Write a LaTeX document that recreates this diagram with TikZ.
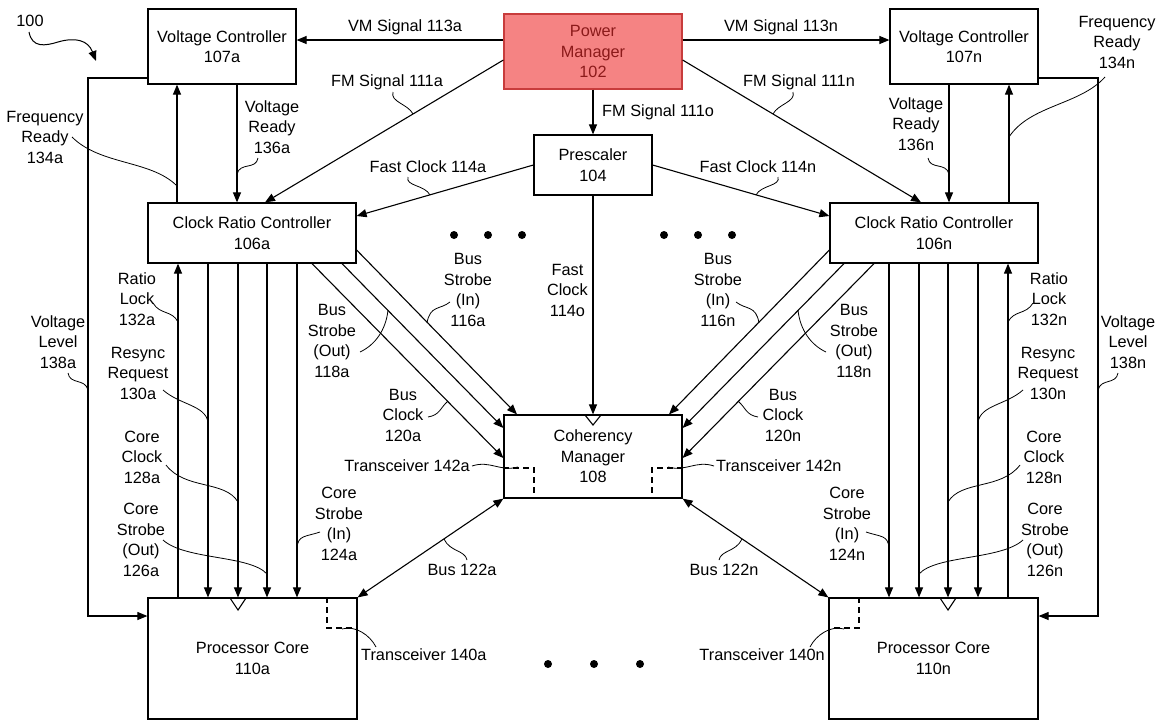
\documentclass[tikz,border=0pt]{standalone}
\usepackage{fontspec}
\setmainfont{Liberation Sans}
\usetikzlibrary{arrows.meta,calc}
\newcommand\dgfont{\fontsize{16.3}{20.5}\selectfont}
\definecolor{pmfill}{HTML}{F58383}
\definecolor{pmdraw}{HTML}{C83C3C}
\definecolor{pmtext}{HTML}{8B1A1A}
\begin{document}
\begin{tikzpicture}[x=1pt,y=-1pt,
  box/.style={draw, line width=1.2pt, fill=white, align=center, inner sep=0pt, font=\dgfont},
  ln/.style={line width=1.1pt},
  arr/.style={ln, -{Triangle[length=10pt,width=8pt]}},
  arrs/.style={ln, {Triangle[length=10pt,width=8pt]}-{Triangle[length=10pt,width=8pt]}},
  lead/.style={line width=0.8pt},
  lbl/.style={align=center, font=\dgfont, inner sep=0pt},
  tdash/.style={line width=1.1pt, dash pattern=on 6pt off 4pt},
  dotn/.style={circle, fill=black, inner sep=0pt, minimum size=8pt}]

\useasboundingbox (0,0) rectangle (1164,721);

% ---------- boxes ----------
\node[box, minimum width=148pt, minimum height=75pt] (vca) at (222,46.5) {Voltage Controller\\107a};
\node[box, minimum width=148pt, minimum height=75pt] (vcn) at (964,46.5) {Voltage Controller\\107n};
\node[box, fill=pmfill, draw=pmdraw, text=pmtext, minimum width=178pt, minimum height=75pt] (pm) at (593,51.5) {Power\\Manager\\102};
\node[box, minimum width=118pt, minimum height=60pt] (pre) at (593,165) {Prescaler\\104};
\node[box, minimum width=208pt, minimum height=60pt] (crca) at (252,233) {Clock Ratio Controller\\106a};
\node[box, minimum width=208pt, minimum height=60pt] (crcn) at (934,233) {Clock Ratio Controller\\106n};
\node[box, minimum width=178pt, minimum height=83pt] (cm) at (593,456.5) {Coherency\\Manager\\108};
\node[box, minimum width=209pt, minimum height=121pt] (pca) at (252.5,658.5) {Processor Core\\110a};
\node[box, minimum width=209pt, minimum height=121pt] (pcn) at (933.5,658.5) {Processor Core\\110n};

% clock triangles
\draw[ln] (585,415) -- (593,425) -- (601,415);
\draw[ln] (230,598) -- (238,610) -- (246,598);
\draw[ln] (940,598) -- (948,610) -- (956,598);

% ---------- top connectors ----------
\draw[arr] (pm.west |- 0,40) -- (vca.east |- 0,40);
\draw[arr] (pm.east |- 0,40) -- (vcn.west |- 0,40);
\draw[arr] (pm.west |- 0,60) -- (crca.north -| 265,0);
\draw[arr] (pm.east |- 0,60) -- (crcn.north -| 921,0);
\draw[arr] (pm.south) -- (pre.north);
\draw[arr] (pre.west) -- (crca.east |- 0,216);
\draw[arr] (pre.east) -- (crcn.west |- 0,216);
\draw[arr] (pre.south) -- (cm.north);

% VC <-> CRC
\draw[arr] (crca.north -| 177,0) -- (vca.south -| 177,0);
\draw[arr] (vca.south -| 237,0) -- (crca.north -| 237,0);
\draw[arr] (crcn.north -| 1009,0) -- (vcn.south -| 1009,0);
\draw[arr] (vcn.south -| 949,0) -- (crcn.north -| 949,0);

% voltage level
\draw[arr] (vca.west |- 0,78) -| (88,616) -- (pca.west |- 0,616);
\draw[arr] (vcn.east |- 0,78) -| (1098,616) -- (pcn.east |- 0,616);

% CRC <-> PC
\draw[arr] (pca.north -| 178,0) -- (crca.south -| 178,0);
\foreach \x in {208,238,267,297} \draw[arr] (crca.south -| \x,0) -- (pca.north -| \x,0);
\draw[arr] (pcn.north -| 1008,0) -- (crcn.south -| 1008,0);
\foreach \x in {978,948,919,889} \draw[arr] (crcn.south -| \x,0) -- (pcn.north -| \x,0);

% bus strobe / clock lines
\draw[arr] (crca.east |- 0,250) -- (cm.north -| 517,0);
\draw[arr] (crca.south -| 342,0) -- (cm.west |- 0,428);
\draw[arr] (crca.south -| 312,0) -- (cm.west |- 0,458);
\draw[arr] (crcn.west |- 0,250) -- (cm.north -| 669,0);
\draw[arr] (crcn.south -| 844,0) -- (cm.east |- 0,428);
\draw[arr] (crcn.south -| 874,0) -- (cm.east |- 0,458);

% buses
\draw[arrs] (pca.north east) -- (cm.south west);
\draw[arrs] (pcn.north west) -- (cm.south east);

% transceivers
\draw[tdash] (cm.west |- 0,468) -- (534,468) -- (cm.south -| 534,0);
\draw[tdash] (cm.east |- 0,468) -- (652,468) -- (cm.south -| 652,0);
\draw[tdash] (pca.north -| 327,0) -- (327,628) -- (pca.east |- 0,628);
\draw[tdash] (pcn.north -| 859,0) -- (859,628) -- (pcn.west |- 0,628);

% dots
\foreach \x/\n in {454/1,488/2,522/3,664/4,698/5,732/6} \node[dotn] (d\n) at (\x,235) {};
\foreach \x/\n in {548/7,594/8,640/9} \node[dotn] (d\n) at (\x,664) {};

% ---------- labels ----------
\node[lbl] (l100) at (30,21) {100};
\coordinate (a100s) at (29,32);
\coordinate (a100e) at (96,61);
\draw[lead, line width=1pt, -{Triangle[length=10pt,width=8pt]}] (a100s) .. controls (32,48) and (45,46) .. (58,42) .. controls (75,37) and (88,40) .. (a100e);

\node[lbl] (l113a) at (405,27) {VM Signal 113a};
\node[lbl] (l113n) at (781,27) {VM Signal 113n};
\node[lbl] (l111a) at (387,82) {FM Signal 111a};
\node[lbl] (l111n) at (799,82) {FM Signal 111n};
\node[lbl, anchor=west] (l111o) at (602,112) {FM Signal 111o};
\node[lbl] (l114a) at (428,167) {Fast Clock 114a};
\node[lbl] (l114n) at (758,167) {Fast Clock 114n};
\node[lbl, anchor=east] (l114o) at (588,290) {Fast\\Clock\\114o};

\draw[lead] (393,92) .. controls (390,102) and (408,104) .. (413,114);
\draw[lead] (793,92) .. controls (796,102) and (778,104) .. (773,114);
\draw[lead] (408,177) .. controls (405,186) and (425,185) .. (430,195);
\draw[lead] (778,177) .. controls (781,186) and (761,185) .. (756,195);

\node[lbl] (l134a) at (45,137) {Frequency\\Ready\\134a};
\node[lbl] (l136a) at (272,127) {Voltage\\Ready\\136a};
\node[lbl] (l134n) at (1117,42) {Frequency\\Ready\\134n};
\node[lbl] (l136n) at (916,124) {Voltage\\Ready\\136n};
\draw[lead] (72,137) .. controls (100,165) and (150,160) .. (176,185);
\draw[lead] (258,158) .. controls (256,170) and (240,162) .. (237,174);
\draw[lead] (1105,77) .. controls (1080,105) and (1030,105) .. (1009,137);
\draw[lead] (928,158) .. controls (930,170) and (946,162) .. (949,174);

\node[lbl] (l138a) at (58,342) {Voltage\\Level\\138a};
\node[lbl] (l138n) at (1128,342) {Voltage\\Level\\138n};
\draw[lead] (68,373) .. controls (70,385) and (85,378) .. (88,390);
\draw[lead] (1118,373) .. controls (1116,385) and (1101,378) .. (1098,390);

\node[lbl] (l132a) at (137,299) {Ratio\\Lock\\132a};
\node[lbl] (l130a) at (138,373) {Resync\\Request\\130a};
\node[lbl] (l128a) at (142,457) {Core\\Clock\\128a};
\node[lbl] (l126a) at (141,540) {Core\\Strobe\\(Out)\\126a};
\node[lbl] (l124a) at (339,524) {Core\\Strobe\\(In)\\124a};
\draw[lead] (153,303) .. controls (160,315) and (172,310) .. (178,322);
\draw[lead] (163,390) .. controls (180,405) and (205,405) .. (208,422);
\draw[lead] (166,465) .. controls (185,490) and (225,480) .. (238,502);
\draw[lead] (163,540) .. controls (185,560) and (250,555) .. (267,574);
\draw[lead] (320,532) .. controls (305,537) and (298,535) .. (297,548);

\node[lbl] (l132n) at (1049,299) {Ratio\\Lock\\132n};
\node[lbl] (l130n) at (1048,373) {Resync\\Request\\130n};
\node[lbl] (l128n) at (1044,457) {Core\\Clock\\128n};
\node[lbl] (l126n) at (1045,540) {Core\\Strobe\\(Out)\\126n};
\node[lbl] (l124n) at (847,524) {Core\\Strobe\\(In)\\124n};
\draw[lead] (1033,303) .. controls (1026,315) and (1014,310) .. (1008,322);
\draw[lead] (1023,390) .. controls (1006,405) and (981,405) .. (978,422);
\draw[lead] (1020,465) .. controls (1001,490) and (961,480) .. (948,502);
\draw[lead] (1023,540) .. controls (1001,560) and (936,555) .. (919,574);
\draw[lead] (866,532) .. controls (881,537) and (888,535) .. (889,548);

\node[lbl] (l116a) at (468,290) {Bus\\Strobe\\(In)\\116a};
\node[lbl] (l118a) at (332,341) {Bus\\Strobe\\(Out)\\118a};
\node[lbl] (l120a) at (403,415) {Bus\\Clock\\120a};
\draw[lead] (450,302) .. controls (440,310) and (430,305) .. (427,323);
\draw[lead] (360,352) .. controls (375,345) and (386,330) .. (388,310);
\draw[lead] (428,417) .. controls (440,415) and (440,408) .. (448,401);

\node[lbl] (l116n) at (718,290) {Bus\\Strobe\\(In)\\116n};
\node[lbl] (l118n) at (854,341) {Bus\\Strobe\\(Out)\\118n};
\node[lbl] (l120n) at (783,415) {Bus\\Clock\\120n};
\draw[lead] (736,302) .. controls (746,310) and (756,305) .. (759,323);
\draw[lead] (826,352) .. controls (811,345) and (800,330) .. (798,310);
\draw[lead] (758,417) .. controls (746,415) and (746,408) .. (738,401);

\node[lbl, anchor=east] (l142a) at (470,466) {Transceiver 142a};
\node[lbl, anchor=west] (l142n) at (716,466) {Transceiver 142n};
\draw[lead] (472,466) .. controls (490,460) and (500,472) .. (518,467);
\draw[lead] (714,466) .. controls (696,460) and (686,472) .. (668,467);

\node[lbl, anchor=west] (l140a) at (361,655) {Transceiver 140a};
\node[lbl, anchor=east] (l140n) at (825,655) {Transceiver 140n};
\draw[lead] (342,629) .. controls (355,625) and (370,635) .. (376,647);
\draw[lead] (844,629) .. controls (831,625) and (816,635) .. (810,647);

\node[lbl] (l122a) at (462,570) {Bus 122a};
\node[lbl] (l122n) at (724,570) {Bus 122n};
\draw[lead] (467,560) .. controls (465,550) and (450,552) .. (444,539);
\draw[lead] (719,560) .. controls (721,550) and (736,552) .. (742,539);

\end{tikzpicture}
\end{document}
